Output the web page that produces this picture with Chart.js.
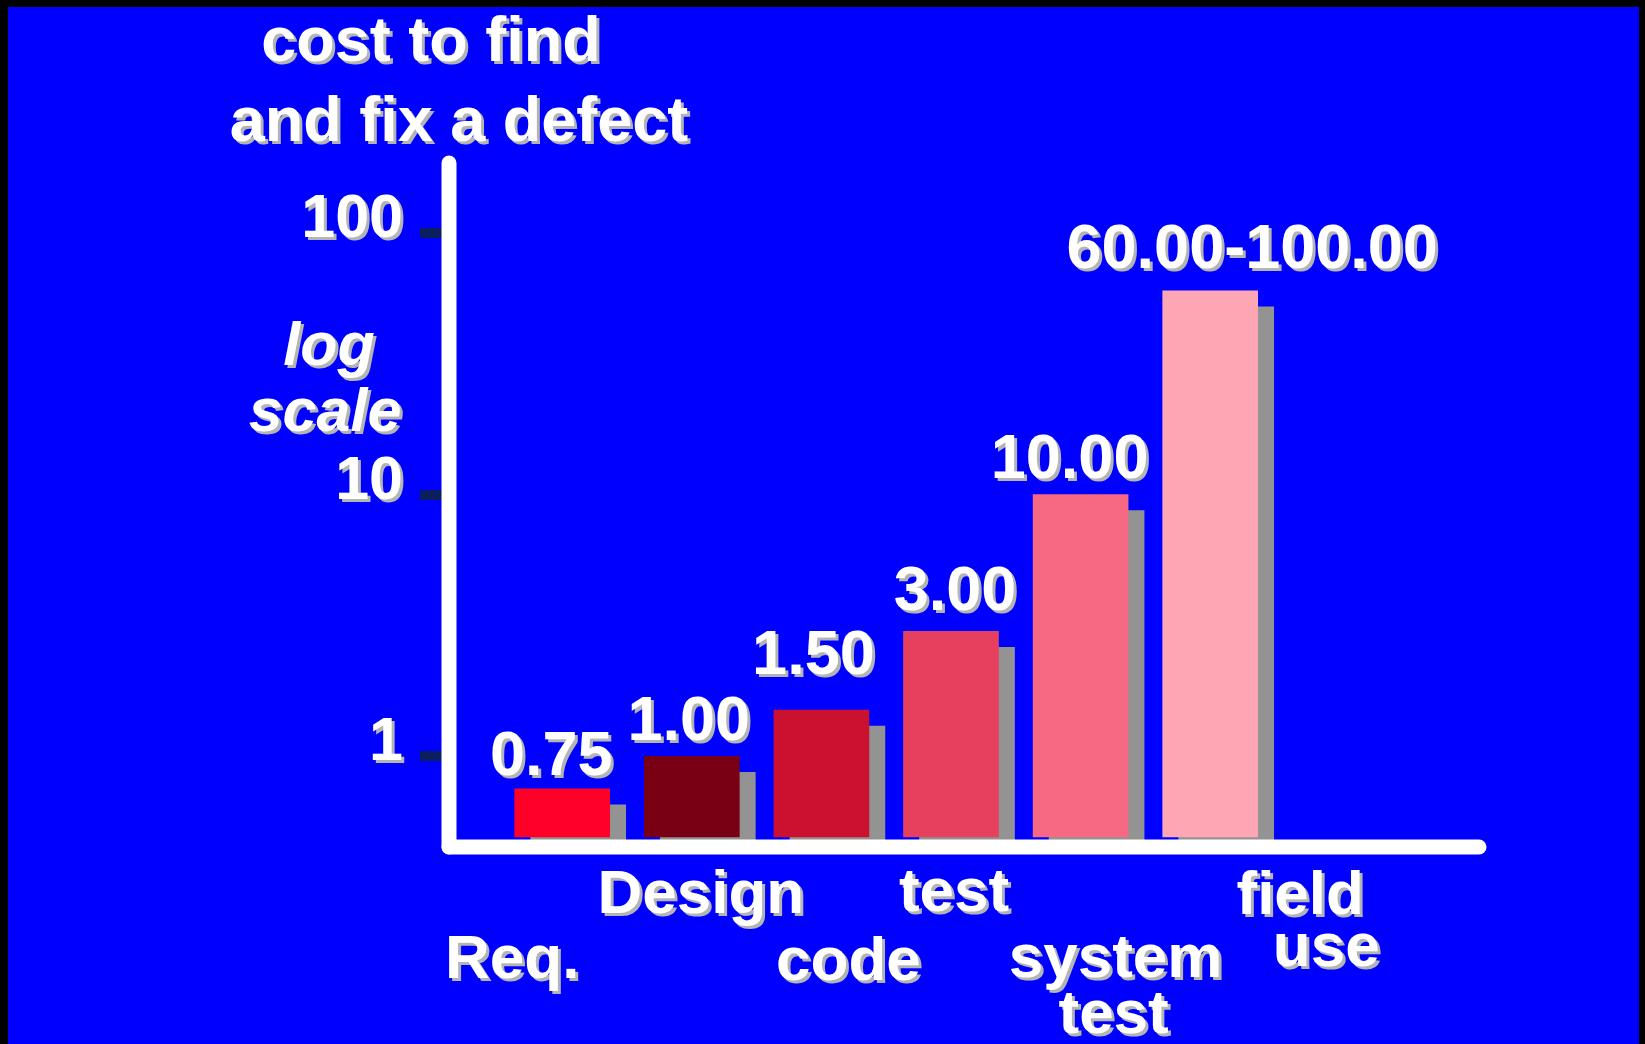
<!DOCTYPE html>
<html><head><meta charset="utf-8">
<script src="https://cdn.jsdelivr.net/npm/chart.js@4.4.1/dist/chart.umd.min.js"></script>
<style>html,body{margin:0;padding:0;background:#000;overflow:hidden}#wrap{width:1645px;height:1044px;position:relative}canvas{display:block}</style>
</head><body><div id="wrap"><canvas id="c" width="1645" height="1044" style="width:1645px;height:1044px"></canvas></div>
<script>
// ---------- data ----------
const categories = [["Req."], ["Design"], ["code"], ["test"], ["system", "test"], ["field", "use"]];
const costValues = [0.75, 1.00, 1.50, 3.00, 10.00, 60.00];
const valueLabels = ["0.75", "1.00", "1.50", "3.00", "10.00", "60.00-100.00"];
const yTickValues = [1, 10, 100];
const yTickLabels = ["1", "10", "100"];
const titleLines = ["cost to find", "and fix a defect"];
const scaleNoteLines = ["log", "scale"];

// ---------- style ----------
const barColors = ["#ff0029", "#790014", "#cc1030", "#e6405e", "#f76882", "#ffa6b4"];
const SHADOW_BAR = "#939393";
const TEXT_SHADOW = "#b4b4b4";
const FONT = '"Liberation Sans", Arial, Helvetica, sans-serif';
const W = 1645, H = 1044;
const TICK_LEN = 29;
const PAD = { left: 420, right: 166, top: 157, bottom: 197 };
const X_MIN = 0.1265, X_MAX = 8.074;
const Y_MIN = 0.45, Y_MAX = 195;
const SH_DX = 16, SH_DY = 16, BASE_LIFT = 10;
const plotW = W - PAD.right - (PAD.left + TICK_LEN);
const plotH = H - PAD.bottom - PAD.top;
const xUPP = (X_MAX - X_MIN) / plotW;
const decPP = Math.log10(Y_MAX / Y_MIN) / plotH;
const shY = Math.pow(10, SH_DY * decPP);
const BAR_BASE = Y_MIN * Math.pow(10, BASE_LIFT * decPP);
// label layout (offsets in px)
const valueLabelShift = [[-11, 14], [-3, 16], [-8, 36], [4, 21], [-11, 17], [42, 23]];
const catLabelShift = [[[-50, 131]], [[9, 66]], [[27, 133]], [[3, 64]], [[35, 130], [33, 186]], [[90, 67], [116, 119]]];

const xs = costValues.map((v, i) => i + 1);
const mainData = costValues.map((v, i) => ({ x: xs[i], y: v }));

function sText(ctx, t, x, y, font, align) {
  ctx.font = font; ctx.textAlign = align; ctx.textBaseline = 'alphabetic';
  ctx.fillStyle = TEXT_SHADOW; ctx.fillText(t, x + 3, y + 3);
  ctx.fillStyle = '#ffffff'; ctx.fillText(t, x, y);
}

const deco = {
  id: 'deco',
  beforeDraw(chart) {
    const ctx = chart.ctx;
    ctx.save();
    ctx.fillStyle = '#000'; ctx.fillRect(0, 0, chart.width, chart.height);
    ctx.fillStyle = '#0000ff'; ctx.fillRect(8, 7, chart.width - 14, chart.height - 7);
    ctx.restore();
  },
  afterDatasetsDraw(chart) {
    const ctx = chart.ctx, ca = chart.chartArea;
    const ys = chart.scales.y;
    ctx.save();
    ctx.strokeStyle = '#ffffff'; ctx.lineWidth = 15; ctx.lineCap = 'round';
    ctx.beginPath(); ctx.moveTo(ca.left, ca.top + 6); ctx.lineTo(ca.left, ca.bottom); ctx.stroke();
    ctx.beginPath(); ctx.moveTo(ca.left, ca.bottom); ctx.lineTo(ca.right, ca.bottom); ctx.stroke();
    const tf = 'bold 61px ' + FONT;
    ys.ticks.forEach((t, i) => {
      const py = ys.getPixelForValue(t.value);
      sText(ctx, yTickLabels[i], ca.left - 46, py + 4, tf, 'right');
    });
    const meta = chart.getDatasetMeta(1);
    const vf = 'bold 63px ' + FONT;
    meta.data.forEach((el, i) => {
      const s = valueLabelShift[i];
      sText(ctx, valueLabels[i], el.x + s[0], el.y - s[1], vf, 'center');
    });
    const cf = 'bold 62px ' + FONT;
    meta.data.forEach((el, i) => {
      categories[i].forEach((line, j) => {
        const s = catLabelShift[i][j];
        sText(ctx, line, el.x + s[0], ca.bottom + s[1], cf, 'center');
      });
    });
    const ttf = 'bold 63px ' + FONT;
    sText(ctx, titleLines[0], ca.left - 18, 61, ttf, 'center');
    sText(ctx, titleLines[1], ca.left + 10, 141, ttf, 'center');
    const lf = 'italic bold 61px ' + FONT;
    sText(ctx, scaleNoteLines[0], ca.left - 120, 365, lf, 'center');
    sText(ctx, scaleNoteLines[1], ca.left - 124, 431, lf, 'center');
    ctx.restore();
  }
};

new Chart(document.getElementById('c'), {
  type: 'bar',
  data: {
    datasets: [
      { data: mainData, xAxisID: 'x2', yAxisID: 'y2', backgroundColor: SHADOW_BAR, barThickness: 95, grouped: false, order: 2 },
      { data: mainData, xAxisID: 'x', yAxisID: 'y', backgroundColor: barColors, barThickness: 95, grouped: false, order: 1, base: BAR_BASE }
    ]
  },
  options: {
    responsive: false, maintainAspectRatio: false, animation: false, devicePixelRatio: 1,
    layout: { padding: PAD },
    plugins: { legend: { display: false }, tooltip: { enabled: false } },
    scales: {
      x: { type: 'linear', display: false, offset: false, min: X_MIN, max: X_MAX },
      x2: { type: 'linear', display: false, offset: false, min: X_MIN - SH_DX * xUPP, max: X_MAX - SH_DX * xUPP },
      y: {
        type: 'logarithmic', position: 'left', min: Y_MIN, max: Y_MAX,
        afterBuildTicks: (s) => { s.ticks = yTickValues.map(v => ({ value: v })); },
        ticks: { display: false },
        border: { display: false },
        grid: { drawOnChartArea: false, drawTicks: true, tickLength: TICK_LEN, color: '#0b1f5e', lineWidth: 10 }
      },
      y2: { type: 'logarithmic', display: false, min: Y_MIN * shY, max: Y_MAX * shY }
    }
  },
  plugins: [deco]
});
</script></body></html>
